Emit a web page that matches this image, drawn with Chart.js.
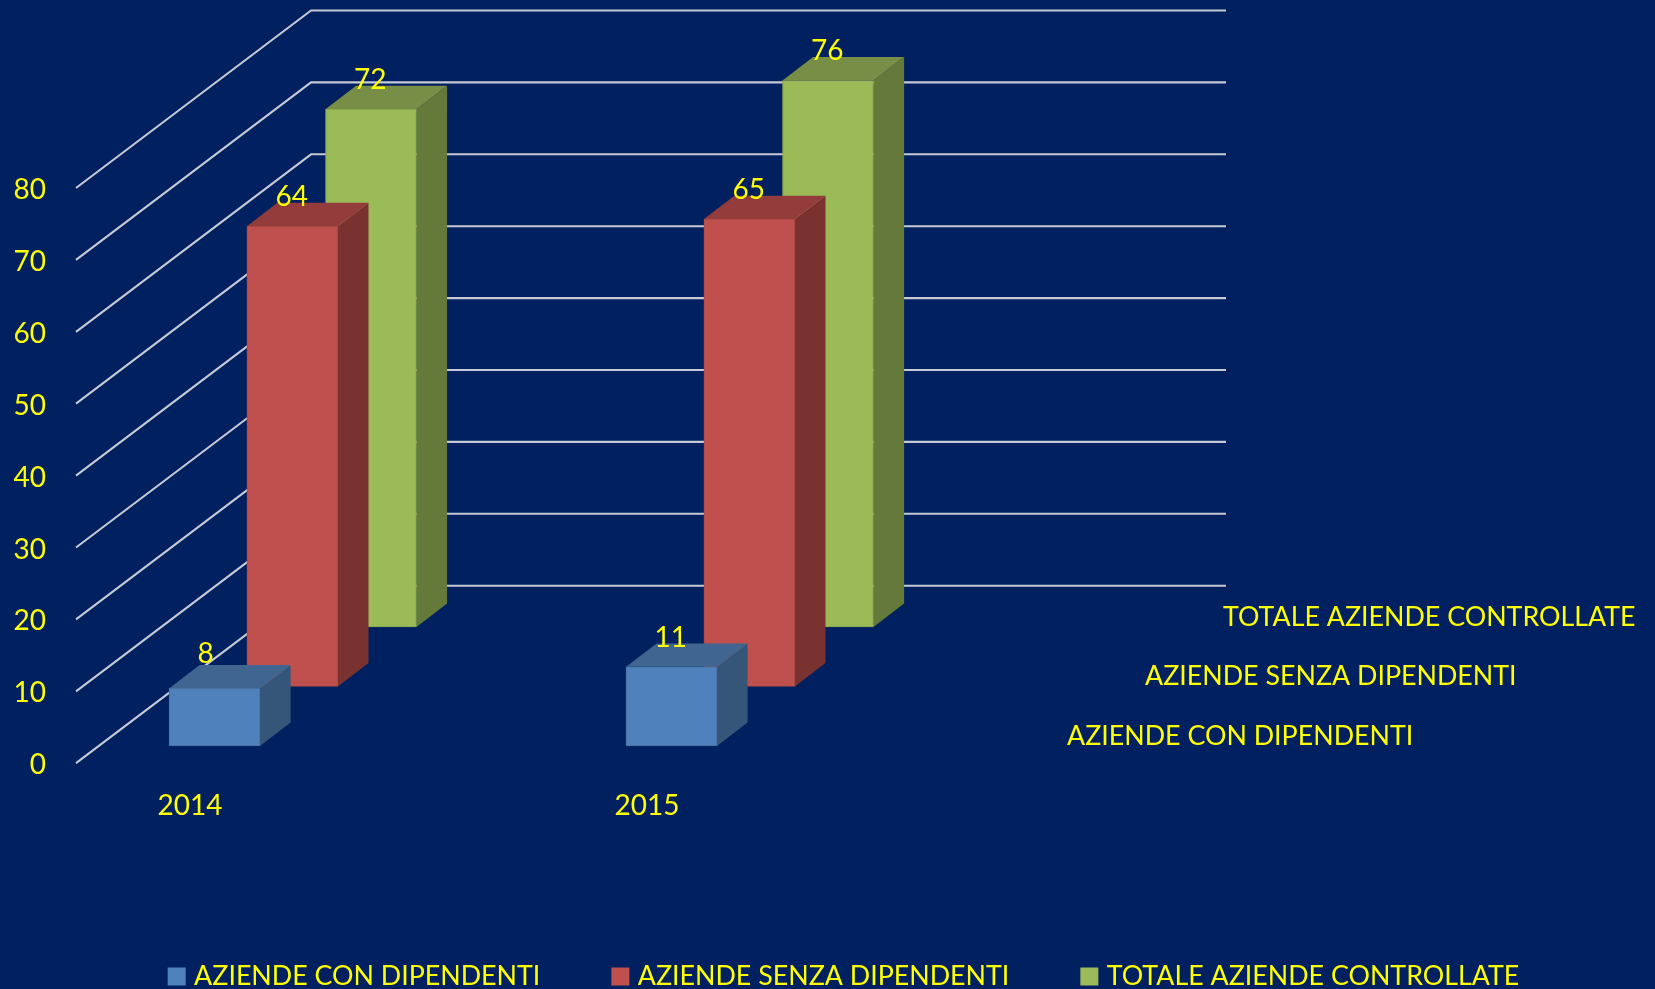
<!DOCTYPE html>
<html>
<head>
<meta charset="utf-8">
<style>
html,body{margin:0;padding:0;background:#00205f;overflow:hidden}
canvas{display:block}
</style>
<script src="https://cdn.jsdelivr.net/npm/chart.js@4/dist/chart.umd.min.js"></script>
</head>
<body>
<canvas id="c" width="1655" height="989"></canvas>
<script>
const categories = ["2014", "2015"];
const seriesNames = ["AZIENDE CON DIPENDENTI", "AZIENDE SENZA DIPENDENTI", "TOTALE AZIENDE CONTROLLATE"];
const conDipendenti = [8, 11];
const senzaDipendenti = [64, 65];
const totaleControllate = [72, 76];
const yTicks = [0, 10, 20, 30, 40, 50, 60, 70, 80];

const FRONT = ["#4f81bd", "#c0504d", "#9bbb59"];
const TOP = ["#3f6590", "#933c3b", "#788e46"];
const SIDE = ["#365679", "#7a3231", "#657a3a"];
const EDGE = ["#46719f", "#a94745", "#8aa64f"];
const YELLOW = "#ffff00";
const FONT = "Lato";
const FS = 28;
const TS = 26.8;

const shift = [{dx:-90,dy:-17.3},{dx:-12.1,dy:-76.8},{dx:66.5,dy:-136.3}];
const depth = {dx:30.6,dy:-23.4};
const wall = {dx:235,dy:-177.5};
const gridEnd = 1226;
const seriesLabelX = 1067, seriesLabelY = 736;

const pseudo3d = {
  id:"pseudo3d",
  afterLayout(chart){
    const lg = chart.legend;
    lg.top = 887;
    lg.left += 18.5;
    lg.right += 18.5;
  },
  beforeDatasetsDraw(chart){
    const {ctx, scales:{y}, chartArea:{left}} = chart;
    ctx.save();
    ctx.strokeStyle = "#c6cad6";
    ctx.lineWidth = 2.1;
    ctx.lineJoin = "round";
    yTicks.forEach(v=>{
      const py = y.getPixelForValue(v);
      ctx.beginPath();
      ctx.moveTo(left, py);
      ctx.lineTo(left+wall.dx, py+wall.dy);
      ctx.lineTo(gridEnd, py+wall.dy);
      ctx.stroke();
    });
    ctx.restore();
  },
  beforeDatasetDraw(chart,{index,meta}){
    const {ctx} = chart;
    const s = shift[index];
    ctx.save();
    ctx.translate(s.dx,s.dy);
    meta.data.forEach(el=>{
      const {x,y,base,width} = el.getProps(["x","y","base","width"],true);
      const l=x-width/2, r=x+width/2;
      ctx.fillStyle = SIDE[index];
      ctx.beginPath();
      ctx.moveTo(r,y);ctx.lineTo(r+depth.dx,y+depth.dy);ctx.lineTo(r+depth.dx,base+depth.dy);ctx.lineTo(r,base);
      ctx.closePath();ctx.fill();
      ctx.fillStyle = TOP[index];
      ctx.beginPath();
      ctx.moveTo(l,y);ctx.lineTo(l+depth.dx,y+depth.dy);ctx.lineTo(r+depth.dx,y+depth.dy);ctx.lineTo(r,y);
      ctx.closePath();ctx.fill();
    });
  },
  afterDatasetDraw(chart){ chart.ctx.restore(); },
  afterDatasetsDraw(chart){
    const {ctx} = chart;
    ctx.save();
    ctx.fillStyle = YELLOW;
    ctx.textBaseline = "middle";
    ctx.textAlign = "left";
    chart.data.datasets.forEach((ds,i)=>{
      const meta = chart.getDatasetMeta(i);
      ctx.font = FS+"px "+FONT;
      meta.data.forEach((el,j)=>{
        const lift = String(ds.data[j]).length===1 ? 34 : 29;
        ctx.fillText(String(ds.data[j]), el.x+shift[i].dx-17, el.y+shift[i].dy-lift);
      });
      ctx.font = TS+"px "+FONT;
      ctx.fillText(seriesNames[i], seriesLabelX+i*78, seriesLabelY-i*59.5);
    });
    ctx.restore();
  }
};

new Chart(document.getElementById("c"),{
  type:"bar",
  data:{
    labels:categories,
    datasets:[conDipendenti,senzaDipendenti,totaleControllate].map((d,i)=>({
      label:seriesNames[i],
      data:d,
      grouped:false,
      backgroundColor:FRONT[i],
      borderColor:EDGE[i],
      borderWidth:1,
      borderSkipped:false,
      barThickness:91,
      clip:false
    }))
  },
  options:{
    responsive:false,
    animation:false,
    layout:{autoPadding:false,padding:{left:0,top:188,right:0,bottom:0}},
    plugins:{
      tooltip:{enabled:false},
      legend:{
        position:"bottom",
        labels:{
          color:YELLOW,
          font:{family:FONT,size:TS},
          boxWidth:8,boxHeight:8,padding:76,
          generateLabels(chart){
            return chart.data.datasets.map((ds,i)=>({
              text:ds.label,fillStyle:FRONT[i],strokeStyle:FRONT[i],lineWidth:10,
              fontColor:YELLOW,hidden:false,datasetIndex:i
            }));
          }
        }
      }
    },
    scales:{
      x:{
        grid:{display:false,drawTicks:false},border:{display:false},
        afterFit(s){s.height=113;},
        ticks:{color:YELLOW,font:{family:FONT,size:FS},padding:26,labelOffset:-114.5,maxRotation:0,autoSkip:false}
      },
      y:{
        min:0,max:80,
        grid:{display:false,drawTicks:false},border:{display:false},
        afterFit(s){s.width=76;},
        ticks:{color:YELLOW,font:{family:FONT,size:FS},padding:30,stepSize:10,labelOffset:2}
      },
      spacer:{
        type:"linear",position:"right",
        grid:{display:false,drawTicks:false},border:{display:false},
        ticks:{display:false},
        afterFit(s){s.width=665;}
      }
    }
  },
  plugins:[pseudo3d]
});
</script>
</body>
</html>
